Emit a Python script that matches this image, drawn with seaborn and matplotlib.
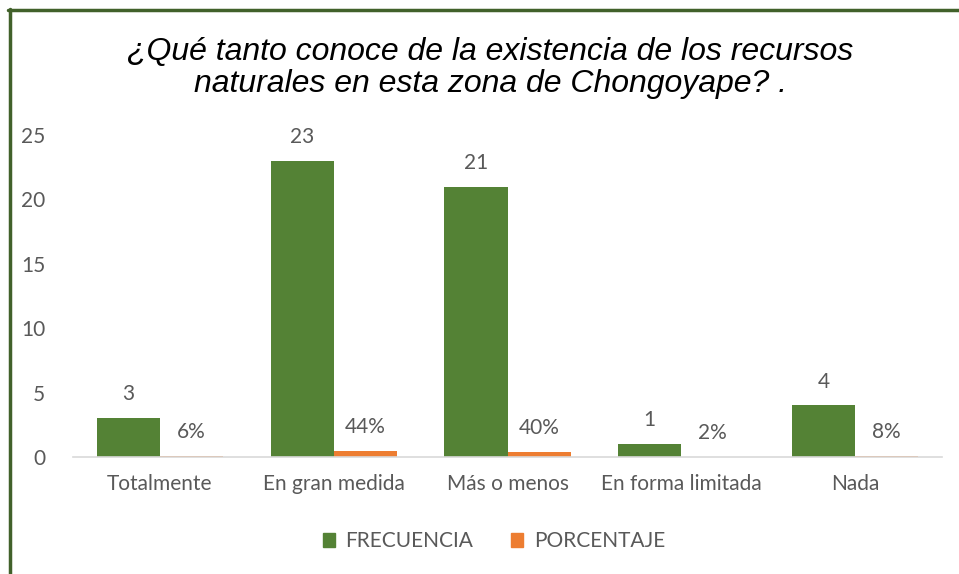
import numpy as np
import pandas as pd
import seaborn as sns
import matplotlib.pyplot as plt
from matplotlib.lines import Line2D

# datos del gráfico
categorias = ["Totalmente", "En gran medida", "Más o menos", "En forma limitada", "Nada"]
frecuencia = [3, 23, 21, 1, 4]
porcentaje = [0.06, 0.44, 0.40, 0.02, 0.08]
series = ["FRECUENCIA", "PORCENTAJE"]
y_ticks = [0, 5, 10, 15, 20, 25]

verde = "#548235"
naranja = "#ED7D31"
gris = "#595959"

df = pd.DataFrame({
    "categoria": categorias * 2,
    "valor": frecuencia + porcentaje,
    "serie": [series[0]] * len(categorias) + [series[1]] * len(categorias),
})

sns.set_style("white")
plt.rcParams['font.family'] = ['Lato', 'DejaVu Sans']

fig = plt.figure(figsize=(9.59, 5.74), dpi=100)
ax = fig.add_axes([0.0761, 0.2038, 0.9062, 0.561])

sns.barplot(data=df, x="categoria", y="valor", hue="serie", order=categorias,
            hue_order=series, palette=[verde, naranja], width=0.725,
            linewidth=0, saturation=1, ax=ax, legend=False)

# etiquetas de datos
etiquetas = [[str(v) for v in frecuencia], ["{:.0f}%".format(v * 100) for v in porcentaje]]
for cont, labs in zip(ax.containers, etiquetas):
    ax.bar_label(cont, labels=labs, padding=10, fontsize=15, color=gris)

ax.set_ylim(0, 25)
ax.set_yticks(y_ticks)
ax.set_xlim(-0.5, len(categorias) - 0.5)
ax.set_xlabel("")
ax.set_ylabel("")
for s in ["top", "right", "left"]:
    ax.spines[s].set_visible(False)
ax.spines["bottom"].set_color("#D9D9D9")
ax.spines["bottom"].set_linewidth(1.2)
ax.tick_params(axis="y", length=0, pad=20, labelsize=15, labelcolor=gris)
ax.tick_params(axis="x", length=0, pad=12, labelsize=15, labelcolor=gris)

# título
fig.text(0.511, 0.8815, "¿Qué tanto conoce de la existencia de los recursos\nnaturales en esta zona de Chongoyape? .",
         ha="center", va="center", fontsize=23, style="italic",
         family=["Liberation Sans", "DejaVu Sans"], color="black", linespacing=1.12)

# leyenda
handles = [plt.Rectangle((0, 0), 1, 1, color=verde), plt.Rectangle((0, 0), 1, 1, color=naranja)]
fig.legend(handles, series, loc="center", bbox_to_anchor=(0.515, 0.057), ncol=2,
           frameon=False, fontsize=15, labelcolor=gris, handlelength=0.6,
           handleheight=0.6, handletextpad=0.5, columnspacing=1.8)

# borde verde
fig.add_artist(Line2D([8 / 959, 1], [1 - 9.5 / 574] * 2, color="#41612A", lw=2.5,
                      transform=fig.transFigure))
fig.add_artist(Line2D([9.5 / 959] * 2, [0, 1 - 9 / 574], color="#41612A", lw=2.5,
                      transform=fig.transFigure))

fig.savefig("out.png", dpi=100)
